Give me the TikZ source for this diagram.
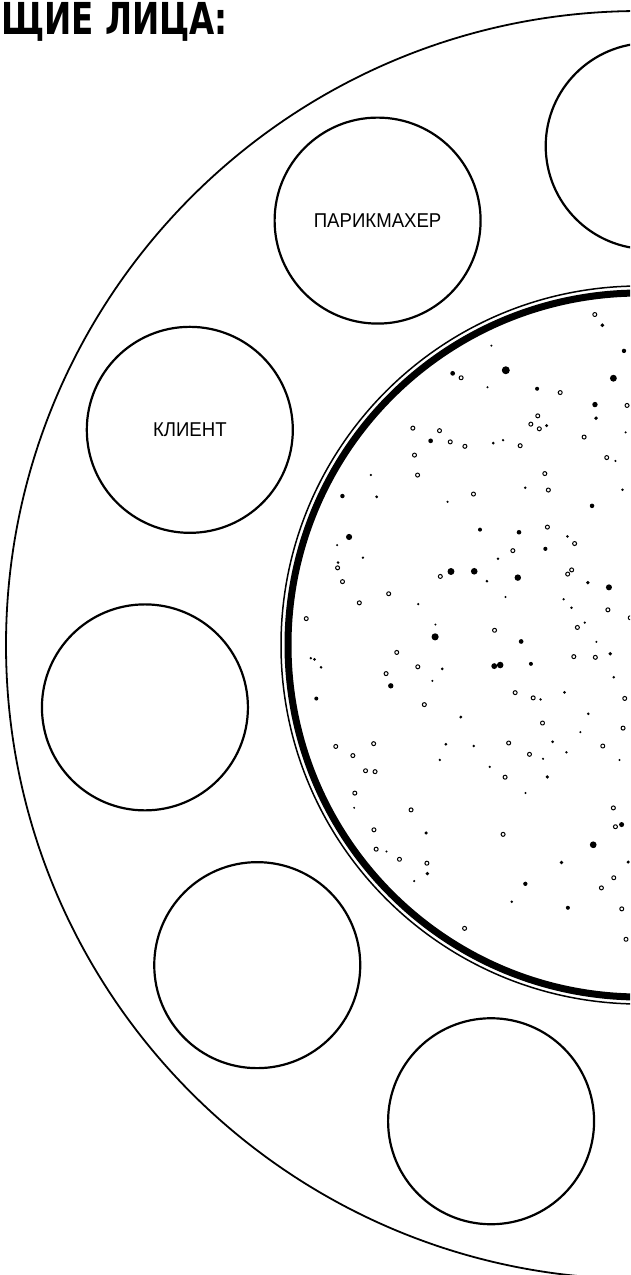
\documentclass[tikz,border=0pt]{standalone}
\usepackage{fontspec}
\setmainfont{Liberation Sans}
\newfontfamily\titlefont{DejaVu Sans}
\usetikzlibrary{calc}
\begin{document}
\begin{tikzpicture}[x=1pt, y=1pt, line join=round,
  seat/.style={circle, draw, line width=2.2pt, minimum size=206pt, inner sep=0pt},
  seatlabel/.style={font=\fontsize{20}{20}\selectfont, xscale=0.93}]
\clip (0,0) rectangle (630,-1275);
\coordinate (ctr) at (640,-645);
% outer ring
\draw[line width=1.8pt] (ctr) circle[radius=634];
% table top with double rim
\draw[line width=1.5pt] (ctr) circle[radius=359];
\draw[line width=7pt] (ctr) circle[radius=352];
% speckles
\pgfmathsetseed{7}
\begin{scope}[shift={(ctr)}]
  \foreach \i in {1,...,160}{
    \pgfmathsetmacro{\ang}{rnd*360}
    \pgfmathsetmacro{\rad}{335*sqrt(rnd)}
    \pgfmathsetmacro{\sz}{1.1+3.2*rnd*rnd}
    \fill (\ang:\rad) circle[radius=\sz];
  }
  \foreach \i in {1,...,130}{
    \pgfmathsetmacro{\ang}{rnd*360}
    \pgfmathsetmacro{\rad}{335*sqrt(rnd)}
    \draw[line width=1pt] (\ang:\rad) circle[radius=2];
  }
\end{scope}
% seats
\foreach \k [evaluate=\k as \a using 89+\k*360/11] in {0,...,10}
  \node[seat] (seat\k) at ($(ctr)+(\a:499)$) {};
\node[seatlabel] (barber) at (seat1.center) {ПАРИКМАХЕР};
\node[seatlabel] (client) at (seat2.center) {КЛИЕНТ};
% title
\node[anchor=west, inner sep=0pt, font=\titlefont\bfseries\fontsize{44}{44}\selectfont, xscale=0.74] (title) at (1,-22) {ЩИЕ ЛИЦА:};
\end{tikzpicture}
\end{document}
